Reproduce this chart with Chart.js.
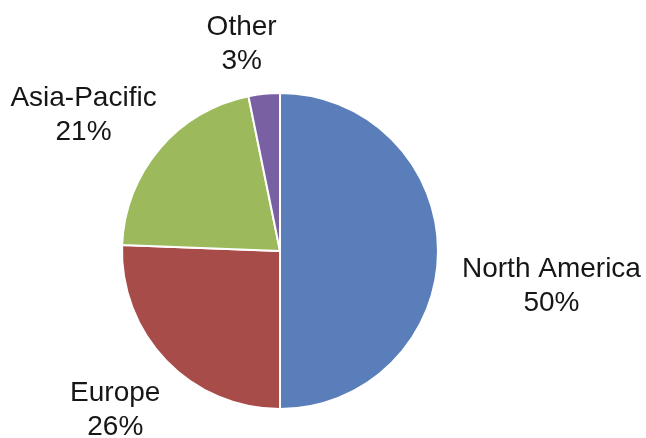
<!DOCTYPE html>
<html>
<head>
<meta charset="utf-8">
<script src="https://cdn.jsdelivr.net/npm/chart.js@4.4.0/dist/chart.umd.min.js"></script>
<style>
  html, body { margin: 0; padding: 0; background: #ffffff; }
  canvas { display: block; }
</style>
</head>
<body>
<canvas id="c" width="646" height="438"></canvas>
<script>
// Data (shares of total, percent)
const categories = ['North America', 'Europe', 'Asia-Pacific', 'Other'];
const shares = [50.0, 25.6, 21.2, 3.2];
const sliceColors = ['#5A7EBA', '#A84C4A', '#9CBA5C', '#7860A2'];

// Label style / placement (outside the slices, nudged like the original's fitted labels)
const labelStyle = {
  font: '28px "Liberation Sans", Arial, sans-serif',
  color: '#161616',
  lineHeight: 34,
  gap: 20,
  nudge: [[4, 35], [-4, 15], [-5, -1], [-17, 0]]
};

const outsideLabels = {
  id: 'outsideLabels',
  afterDatasetsDraw(chart) {
    const ctx = chart.ctx;
    const meta = chart.getDatasetMeta(0);
    const data = chart.data.datasets[0].data;
    const total = data.reduce((a, b) => a + b, 0);
    ctx.save();
    ctx.font = labelStyle.font;
    ctx.fillStyle = labelStyle.color;
    ctx.textAlign = 'center';
    ctx.textBaseline = 'middle';
    meta.data.forEach((arc, i) => {
      const p = arc.getProps(['x', 'y', 'startAngle', 'endAngle', 'outerRadius'], true);
      const mid = (p.startAngle + p.endAngle) / 2;
      const dx = Math.cos(mid), dy = Math.sin(mid);
      const lines = [chart.data.labels[i], Math.round(data[i] / total * 100) + '%'];
      const w = Math.max(...lines.map(t => ctx.measureText(t).width));
      const h = 60;
      const bx = p.x + dx * (p.outerRadius + labelStyle.gap) + dx * w / 2 + labelStyle.nudge[i][0];
      const by = p.y + dy * (p.outerRadius + labelStyle.gap) + dy * h / 2 + labelStyle.nudge[i][1];
      ctx.fillText(lines[0], bx, by - labelStyle.lineHeight / 2);
      ctx.fillText(lines[1], bx, by + labelStyle.lineHeight / 2);
    });
    ctx.restore();
  }
};

new Chart(document.getElementById('c'), {
  type: 'pie',
  data: {
    labels: categories,
    datasets: [{
      data: shares,
      backgroundColor: sliceColors,
      borderColor: '#ffffff',
      borderWidth: 2
    }]
  },
  options: {
    responsive: false,
    animation: false,
    layout: { padding: { left: 121, right: 207, top: 92, bottom: 28 } },
    plugins: {
      legend: { display: false },
      tooltip: { enabled: false }
    }
  },
  plugins: [outsideLabels]
});
</script>
</body>
</html>
